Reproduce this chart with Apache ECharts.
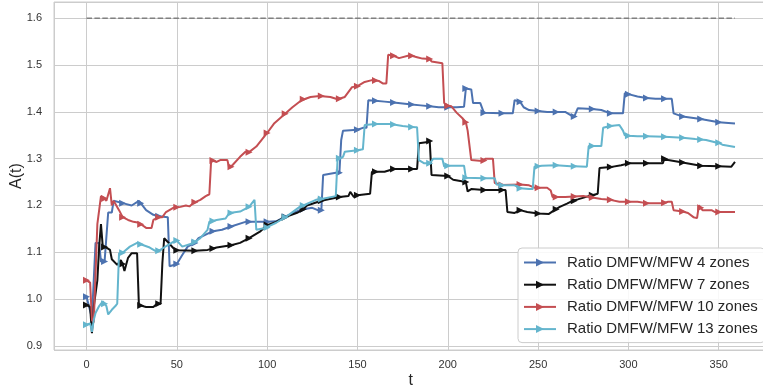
<!DOCTYPE html>
<html>
<head>
<meta charset="utf-8">
<script src="https://cdn.jsdelivr.net/npm/echarts@6/dist/echarts.min.js"></script>
<style>html,body{margin:0;padding:0;background:#fff}#c{width:763px;height:389px}</style>
</head>
<body>
<div id="c"></div>
<script>
const seriesNames = ['Ratio DMFW/MFW 4 zones','Ratio DMFW/MFW 7 zones','Ratio DMFW/MFW 10 zones','Ratio DMFW/MFW 13 zones'];
const xTickLabels = [0,50,100,150,200,250,300,350];
const yTickLabels = [0.9,1.0,1.1,1.2,1.3,1.4,1.5,1.6];
const refLevel = [[0,1.6],[359,1.6]];

const ratio4 = [[0,1.005],[1,1.005],[3,0.96],[5,1.12],[7,1.12],[8,1.08],[10,1.08],[11,1.08],[12,1.185],[14,1.185],[15,1.21],[20,1.205],[25,1.2],[29,1.21],[30,1.205],[33,1.19],[37,1.18],[40,1.177],[45,1.175],[46,1.07],[50,1.075],[53,1.094],[56,1.112],[60,1.12],[62,1.13],[70,1.145],[75,1.148],[80,1.155],[88,1.165],[90,1.165],[100,1.165],[105,1.166],[110,1.176],[118,1.19],[120,1.192],[125,1.195],[128,1.19],[130,1.19],[131,1.265],[138,1.27],[140,1.27],[141,1.34],[142,1.36],[150,1.362],[153,1.366],[155,1.366],[156,1.425],[160,1.424],[165,1.422],[170,1.42],[175,1.418],[180,1.416],[185,1.414],[190,1.412],[195,1.41],[200,1.41],[205,1.41],[209,1.411],[210,1.45],[213,1.448],[214,1.419],[218,1.419],[220,1.398],[230,1.397],[236,1.397],[237,1.425],[240,1.422],[242,1.41],[245,1.404],[250,1.402],[255,1.4],[260,1.4],[265,1.4],[268,1.393],[270,1.39],[271,1.387],[272,1.408],[280,1.406],[285,1.404],[290,1.397],[297,1.397],[298,1.44],[300,1.438],[305,1.433],[310,1.43],[315,1.428],[320,1.428],[324,1.428],[325,1.397],[330,1.39],[340,1.385],[350,1.378],[359,1.375]];

const ratio7 = [[0,0.987],[2,0.983],[3,0.927],[4,0.983],[6,1.04],[7,1.112],[8,1.16],[9,1.112],[10,1.111],[11,1.11],[13,1.105],[14,1.085],[17,1.073],[19,1.083],[20,1.075],[21,1.06],[23,1.088],[25,1.098],[28,1.098],[29,0.987],[30,0.986],[33,0.983],[37,0.983],[39,0.99],[40,0.99],[41,0.99],[42,1.077],[43,1.13],[45,1.122],[48,1.109],[50,1.104],[51,1.102],[60,1.103],[67,1.105],[70,1.108],[72,1.11],[80,1.115],[85,1.12],[90,1.13],[96,1.144],[100,1.158],[105,1.165],[110,1.175],[111,1.176],[117,1.185],[120,1.192],[122,1.2],[130,1.21],[131,1.212],[140,1.218],[145,1.22],[146,1.229],[148,1.218],[150,1.222],[151,1.225],[157,1.225],[158,1.272],[160,1.272],[165,1.272],[170,1.278],[180,1.278],[183,1.278],[184,1.333],[188,1.335],[190,1.338],[191,1.265],[200,1.263],[203,1.255],[210,1.25],[211,1.23],[213,1.235],[220,1.233],[230,1.233],[232,1.233],[233,1.186],[237,1.184],[240,1.19],[244,1.186],[248,1.184],[250,1.183],[256,1.182],[259,1.19],[260,1.192],[262,1.197],[266,1.204],[269,1.21],[270,1.21],[272,1.213],[278,1.22],[280,1.222],[283,1.225],[284,1.28],[290,1.282],[296,1.286],[300,1.29],[310,1.29],[319,1.29],[320,1.3],[322,1.297],[330,1.292],[340,1.285],[350,1.284],[357,1.283],[359,1.293]];

const ratio10 = [[0,1.04],[2,1.035],[3,0.955],[4,0.95],[6,1.16],[7,1.19],[8,1.22],[10,1.215],[11,1.21],[12,1.21],[13,1.237],[14,1.2],[15,1.21],[18,1.19],[20,1.175],[23,1.169],[26,1.165],[29,1.163],[30,1.16],[33,1.152],[36,1.152],[37,1.169],[40,1.175],[42,1.175],[44,1.186],[48,1.195],[50,1.196],[52,1.197],[55,1.2],[57,1.198],[59,1.205],[60,1.207],[63,1.212],[66,1.22],[68,1.224],[69,1.297],[70,1.296],[72,1.293],[74,1.297],[78,1.297],[79,1.28],[80,1.283],[81,1.287],[85,1.304],[88,1.315],[90,1.314],[91,1.312],[94,1.326],[100,1.355],[104,1.376],[109,1.393],[110,1.396],[114,1.41],[119,1.425],[120,1.427],[124,1.432],[129,1.434],[130,1.434],[135,1.432],[139,1.427],[140,1.428],[143,1.432],[147,1.453],[150,1.455],[154,1.464],[158,1.468],[160,1.467],[162,1.466],[164,1.461],[166,1.461],[167,1.522],[170,1.52],[173,1.515],[179,1.521],[180,1.52],[183,1.517],[186,1.514],[190,1.513],[191,1.508],[197,1.504],[198,1.419],[200,1.413],[202,1.412],[205,1.398],[208,1.387],[210,1.378],[211,1.36],[212,1.36],[213,1.297],[219,1.295],[220,1.296],[221,1.3],[225,1.3],[226,1.248],[230,1.244],[240,1.245],[245,1.243],[248,1.238],[250,1.238],[255,1.238],[257,1.232],[258,1.218],[260,1.218],[265,1.218],[270,1.219],[275,1.22],[280,1.217],[285,1.214],[290,1.212],[295,1.208],[300,1.208],[305,1.208],[310,1.205],[318,1.205],[320,1.206],[322,1.208],[324,1.208],[325,1.19],[330,1.187],[333,1.184],[336,1.175],[338,1.173],[339,1.2],[340,1.195],[341,1.19],[346,1.19],[348,1.186],[350,1.186],[359,1.186]];

const ratio13 = [[0,0.945],[2,0.948],[3,0.93],[4,0.955],[5,0.97],[7,0.985],[9,0.995],[10,0.99],[11,0.985],[12,0.967],[14,0.977],[16,0.985],[17,0.99],[18,1.098],[20,1.099],[21,1.1],[24,1.112],[28,1.12],[30,1.117],[31,1.114],[35,1.11],[39,1.101],[40,1.103],[42,1.108],[45,1.115],[48,1.122],[50,1.125],[53,1.112],[58,1.118],[60,1.122],[63,1.13],[67,1.148],[68,1.165],[70,1.167],[72,1.169],[77,1.172],[79,1.184],[80,1.184],[85,1.187],[90,1.197],[93,1.212],[94,1.148],[99,1.152],[100,1.153],[105,1.163],[110,1.175],[112,1.18],[118,1.197],[120,1.2],[127,1.212],[130,1.214],[131,1.215],[138,1.22],[139,1.3],[140,1.301],[142,1.304],[143,1.315],[150,1.318],[153,1.32],[154,1.372],[160,1.374],[168,1.374],[170,1.373],[175,1.37],[180,1.368],[183,1.367],[184,1.297],[187,1.29],[190,1.29],[192,1.3],[197,1.3],[198,1.283],[200,1.285],[209,1.285],[210,1.259],[220,1.258],[226,1.258],[227,1.245],[230,1.243],[237,1.243],[240,1.237],[245,1.235],[247,1.235],[248,1.283],[250,1.284],[252,1.285],[260,1.286],[268,1.284],[270,1.284],[277,1.283],[278,1.327],[280,1.327],[285,1.327],[286,1.366],[290,1.37],[295,1.372],[297,1.36],[298,1.35],[300,1.349],[305,1.348],[310,1.348],[320,1.347],[330,1.345],[337,1.342],[340,1.341],[343,1.34],[348,1.335],[350,1.334],[352,1.33],[359,1.325]];

const allSeries = [ratio4, ratio7, ratio10, ratio13];
const colors = ['#4C72B0', '#111111', '#C44E52', '#64B5CD'];
const markEvery = 10;

function withMarkers(arr) {
  return arr.map(p => (p[0] % markEvery === 0) ? { value: p } : { value: p, symbol: 'none' });
}

const chart = echarts.init(document.getElementById('c'), null, { renderer: 'canvas' });
const series = allSeries.map((arr, i) => ({
  name: seriesNames[i],
  type: 'line',
  data: withMarkers(arr),
  symbol: 'triangle',
  symbolSize: 7,
  symbolRotate: -90,
  showSymbol: true,
  showAllSymbol: true,
  itemStyle: { color: colors[i] },
  lineStyle: { color: colors[i], width: 2 },
  emphasis: { disabled: true },
  z: 2 + i
}));
series.push({
  type: 'line',
  data: refLevel,
  symbol: 'none',
  silent: true,
  lineStyle: { color: '#808080', width: 1.5, type: [5.5, 2.4] },
  z: 1
});

chart.setOption({
  animation: false,
  backgroundColor: '#ffffff',
  grid: { left: 54, right: -4.5, top: 2, bottom: 39, outerBoundsMode: 'none', containLabel: false, show: true, borderColor: '#cccccc', borderWidth: 1, backgroundColor: 'transparent' },
  xAxis: {
    type: 'value', min: -18, max: 377, splitNumber: 8,
    name: 't', nameLocation: 'middle', nameGap: 23, nameMoveOverlap: false,
    nameTextStyle: { fontSize: 16, color: '#262626', fontFamily: 'Liberation Sans, Arial, sans-serif' },
    axisLine: { show: false }, axisTick: { show: false },
    axisLabel: { margin: 9, fontSize: 11, color: '#333333', fontFamily: 'Liberation Sans, Arial, sans-serif',
      formatter: v => xTickLabels.indexOf(v) >= 0 ? String(v) : '' },
    splitLine: { show: true, lineStyle: { color: '#cccccc', width: 1 } }
  },
  yAxis: {
    type: 'value', min: 0.891, max: 1.635, splitNumber: 7,
    name: 'A(t)', nameLocation: 'middle', nameGap: 29, nameRotate: 90, nameMoveOverlap: false,
    nameTextStyle: { fontSize: 16, color: '#262626', fontFamily: 'Liberation Sans, Arial, sans-serif' },
    axisLine: { show: false }, axisTick: { show: false },
    axisLabel: { margin: 12, fontSize: 11, color: '#333333', fontFamily: 'Liberation Sans, Arial, sans-serif',
      formatter: v => { const r = Math.round(v * 10) / 10; return (Math.abs(v - r) < 1e-6 && yTickLabels.indexOf(r) >= 0) ? r.toFixed(1) : ''; } },
    splitLine: { show: true, lineStyle: { color: '#cccccc', width: 1 } }
  },
  legend: {
    data: seriesNames,
    orient: 'vertical', left: 518, top: 248,
    itemWidth: 32, itemHeight: 10, itemGap: 7.2,
    padding: [7, 7, 6, 5],
    backgroundColor: 'rgba(255,255,255,0.85)', borderColor: '#cccccc', borderWidth: 1, borderRadius: 4,
    textStyle: { fontSize: 15, color: '#262626', fontFamily: 'Liberation Sans, Arial, sans-serif', padding: [0, 0, 0, 6] },
    z: 20
  },
  series: series
});
</script>
</body>
</html>
